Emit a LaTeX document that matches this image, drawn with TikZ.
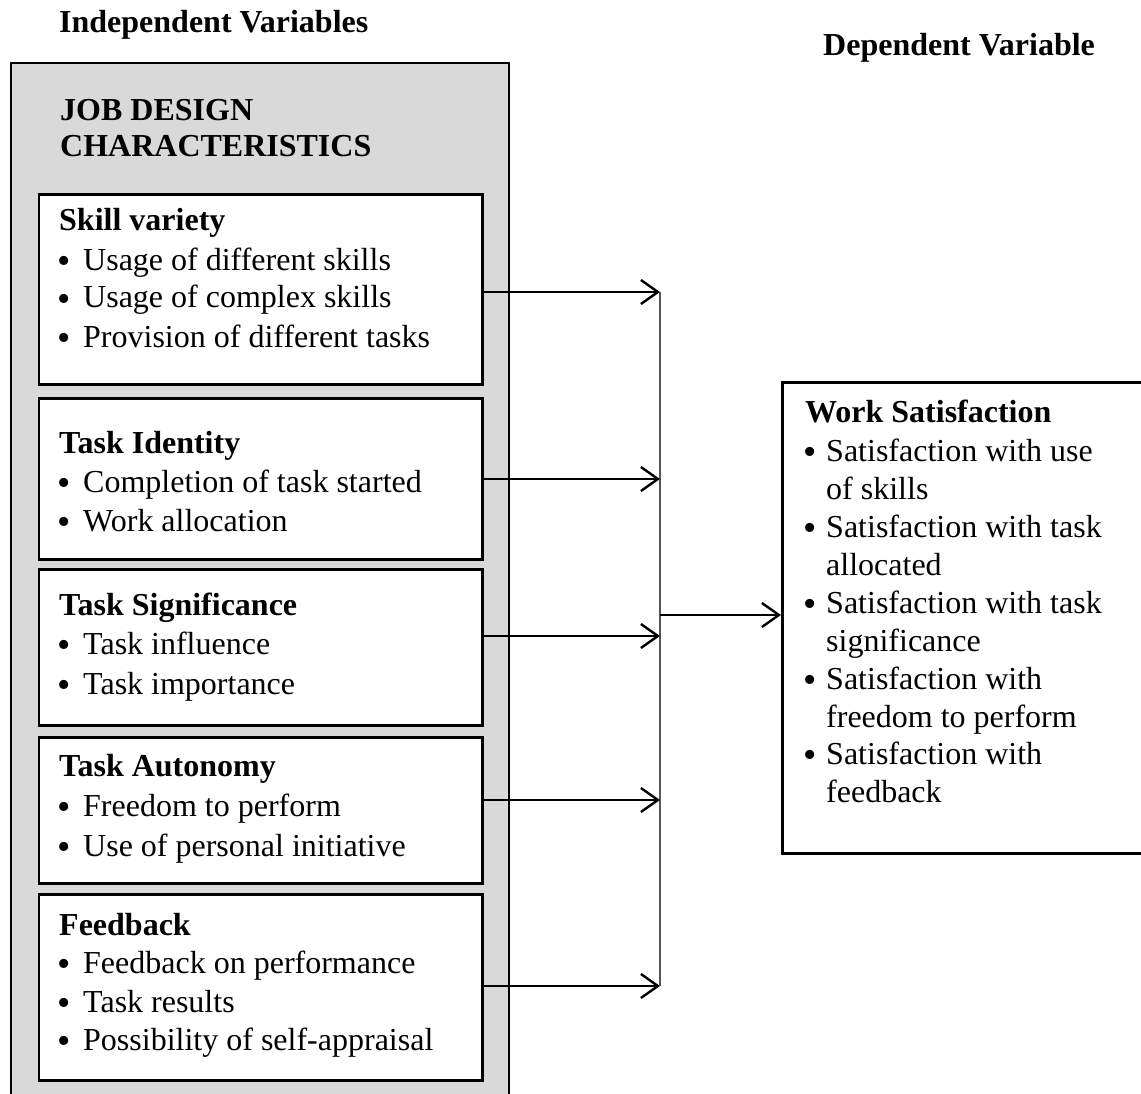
\documentclass[tikz,border=0pt]{standalone}
\usepackage{fontspec}
\setmainfont{Liberation Serif}
\usetikzlibrary{arrows.meta}
\definecolor{graybg}{HTML}{D9D9D9}
\definecolor{vline}{HTML}{555555}
\begin{document}
\begin{tikzpicture}[x=1pt,y=-1pt,
  txt/.style={anchor=base west, inner sep=0pt, font=\fontsize{32}{38}\selectfont},
  bul/.style={anchor=base west, inner sep=0pt, yshift=-3pt, font=\fontsize{38}{38}\selectfont},
  hd/.style={anchor=base west, inner sep=0pt, font=\fontsize{32}{38}\selectfont\bfseries},
  box/.style={draw, line width=2.6pt, fill=white, anchor=north west, inner sep=0pt},
  conn/.style={line width=2.4pt, -{Straight Barb[length=17pt,width=24pt,line width=2.4pt]}},
]
\useasboundingbox (0,0) rectangle (1141,1094);
\clip (0,0) rectangle (1141,1094);
\fill[white] (0,0) rectangle (1141,1094);

% headings
\node[hd] (iv) at (59,33) {Independent Variables};
\node[hd] (dv) at (823,56) {Dependent Variable};

% outer grey panel
\node[draw, line width=2.4pt, fill=graybg, anchor=north west, inner sep=0pt,
      minimum width=498pt, minimum height=1060pt] (panel) at (10,62) {};
\node[hd] (jd1) at (60,121) {JOB DESIGN};
\node[hd] (jd2) at (60,157) {CHARACTERISTICS};

% inner boxes
\node[box, minimum width=443.5pt, minimum height=190pt] (sv) at (37.5,193) {};
\node[box, minimum width=443.5pt, minimum height=161pt] (ti) at (37.5,397) {};
\node[box, minimum width=443.5pt, minimum height=156pt] (ts) at (37.5,568) {};
\node[box, minimum width=443.5pt, minimum height=146pt] (ta) at (37.5,736) {};
\node[box, minimum width=443.5pt, minimum height=186pt] (fb) at (37.5,893) {};

% skill variety
\node[hd] (svt) at (59,231) {Skill variety};
\node[bul] (svb1) at (57,270) {•};\node[txt] (sv1) at (83,270) {Usage of different skills};
\node[bul] (svb2) at (57,308) {•};\node[txt] (sv2) at (83,308) {Usage of complex skills};
\node[bul] (svb3) at (57,347) {•};\node[txt] (sv3) at (83,347) {Provision of different tasks};

% task identity
\node[hd] (tit) at (59,453) {Task Identity};
\node[bul] (tib1) at (57,492) {•};\node[txt] (ti1) at (83,492) {Completion of task started};
\node[bul] (tib2) at (57,531) {•};\node[txt] (ti2) at (83,531) {Work allocation};

% task significance
\node[hd] (tst) at (59,615) {Task Significance};
\node[bul] (tsb1) at (57,654) {•};\node[txt] (ts1) at (83,654) {Task influence};
\node[bul] (tsb2) at (57,694) {•};\node[txt] (ts2) at (83,694) {Task importance};

% task autonomy
\node[hd] (tat) at (59,776) {Task Autonomy};
\node[bul] (tab1) at (57,816) {•};\node[txt] (ta1) at (83,816) {Freedom to perform};
\node[bul] (tab2) at (57,856) {•};\node[txt] (ta2) at (83,856) {Use of personal initiative};

% feedback
\node[hd] (fbt) at (59,935) {Feedback};
\node[bul] (fbb1) at (57,973) {•};\node[txt] (fb1) at (83,973) {Feedback on performance};
\node[bul] (fbb2) at (57,1012) {•};\node[txt] (fb2) at (83,1012) {Task results};
\node[bul] (fbb3) at (57,1050) {•};\node[txt] (fb3) at (83,1050) {Possibility of self-appraisal};

% dependent box
\node[box, minimum width=380pt, minimum height=471pt] (ws) at (781,381) {};
\node[hd] (wst) at (805,422) {Work Satisfaction};
\node[bul] (wsb1) at (803,461) {•};\node[txt] (ws1) at (826,461) {Satisfaction with use};
\node[txt] (ws1b) at (826,499) {of skills};
\node[bul] (wsb2) at (803,537) {•};\node[txt] (ws2) at (826,537) {Satisfaction with task};
\node[txt] (ws2b) at (826,575) {allocated};
\node[bul] (wsb3) at (803,613) {•};\node[txt] (ws3) at (826,613) {Satisfaction with task};
\node[txt] (ws3b) at (826,651) {significance};
\node[bul] (wsb4) at (803,689) {•};\node[txt] (ws4) at (826,689) {Satisfaction with};
\node[txt] (ws4b) at (826,727) {freedom to perform};
\node[bul] (wsb5) at (803,764) {•};\node[txt] (ws5) at (826,764) {Satisfaction with};
\node[txt] (ws5b) at (826,802) {feedback};

% junction points
\coordinate (j1) at (660,292);
\coordinate (j2) at (660,479);
\coordinate (j3) at (660,636);
\coordinate (j4) at (660,800);
\coordinate (j5) at (660,986);
\coordinate (jm) at (660,615);

\draw[line width=1.5pt, vline] (j1) -- (j5);
\draw[conn] (sv.east |- j1) -- (j1);
\draw[conn] (ti.east |- j2) -- (j2);
\draw[conn] (ts.east |- j3) -- (j3);
\draw[conn] (ta.east |- j4) -- (j4);
\draw[conn] (fb.east |- j5) -- (j5);
\draw[conn] (jm) -- (ws.west |- jm);
\end{tikzpicture}
\end{document}
